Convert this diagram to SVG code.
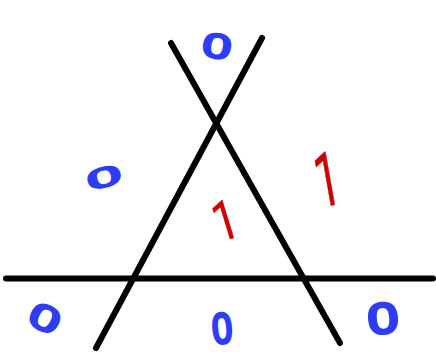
<svg xmlns="http://www.w3.org/2000/svg" width="436" height="352" viewBox="0 0 436 352">
<style>
.ln{stroke:#000;stroke-width:6;stroke-linecap:round;fill:none}
.z{font-family:"Liberation Sans",Arial,sans-serif;font-size:34px;fill:#2d3cf5;stroke:#2d3cf5;stroke-width:2.5;text-anchor:middle}
.o{font-family:Roboto,"Open Sans",sans-serif;font-size:58px;fill:#d00000;stroke:#d00000;stroke-width:0.5;text-anchor:middle}
</style>
<rect width="436" height="352" fill="#fff"/>
<g id="lines">
<line class="ln" x1="171" y1="43" x2="340" y2="343"/>
<line class="ln" x1="262" y1="38" x2="96" y2="348"/>
<line class="ln" x1="6" y1="278.5" x2="433" y2="278.5"/>
</g>
<g id="labels">
<text class="z" transform="translate(217,46) rotate(10) scale(1.5,1)" y="12">0</text>
<text class="z" transform="translate(104,177) rotate(-15) scale(1.8,0.8)" y="12">0</text>
<text class="z" transform="translate(45,318) rotate(25) scale(1.6,1.05)" y="12">0</text>
<text class="z" transform="translate(222,328) rotate(-5) scale(1.05,1.25)" y="12">0</text>
<text class="z" transform="translate(383,318) rotate(-5) scale(1.6,1.25)" y="12">0</text>
<text class="o" transform="translate(225,220) rotate(-17) scale(0.75,0.95)" y="20.5">1</text>
<text class="o" transform="translate(327,179) rotate(-10) scale(0.75,1.3)" y="20.5">1</text>
</g>
</svg>
